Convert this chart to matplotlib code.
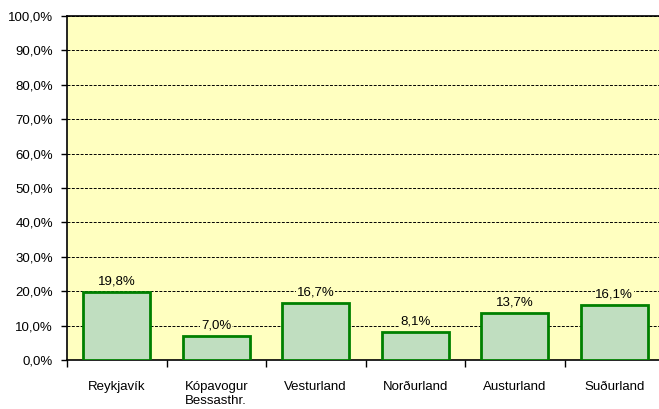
import matplotlib.pyplot as plt
import matplotlib.ticker as ticker
import numpy as np

plt.rcParams['font.family'] = ['Liberation Sans', 'DejaVu Sans']

categories = ['Reykjavík', 'Kópavogur\nBessasthr.', 'Vesturland', 'Norðurland', 'Austurland', 'Suðurland']
values = [19.8, 7.0, 16.7, 8.1, 13.7, 16.1]
y_ticks = np.arange(0, 101, 10)

bg_color = '#FFFFC0'
bar_fill = '#C0DEC0'
bar_edge = '#008000'

fig = plt.figure(figsize=(6.59, 4.09), dpi=100)
ax = fig.add_axes([67 / 659, 49 / 409, 597 / 659, 344 / 409])
ax.set_facecolor(bg_color)

x = np.arange(len(categories))
ax.bar(x, values, width=0.67, color=bar_fill, edgecolor=bar_edge, linewidth=2, zorder=3)

for xi, v in zip(x, values):
    ax.annotate(f'{v:.1f}'.replace('.', ',') + '%', (xi, v), xytext=(0, 3),
                textcoords='offset points', ha='center', va='bottom', fontsize=9.5,
                bbox=dict(boxstyle='square,pad=0.05', fc=bg_color, ec='none'), zorder=4)

ax.set_xlim(-0.5, len(categories) - 0.5)
ax.set_ylim(0, 100)
ax.set_yticks(y_ticks)
ax.yaxis.set_major_formatter(ticker.FuncFormatter(lambda v, p: f'{v:.1f}'.replace('.', ',') + '%'))
ax.yaxis.grid(True, color='black', linestyle=(0, (3, 1.5)), linewidth=0.7, zorder=1)
ax.set_axisbelow(True)

ax.set_xticks(np.arange(-0.5, len(categories), 1.0))
ax.set_xticklabels([])
ax.set_xticks(x, minor=True)
ax.set_xticklabels(categories, minor=True, fontsize=9.5, linespacing=1.2)
ax.tick_params(axis='x', which='minor', length=0, pad=15)
ax.tick_params(axis='x', which='major', length=5, width=1, direction='out')
ax.tick_params(axis='y', length=4, width=1, direction='out', labelsize=9.5, pad=6)

for side in ['left', 'bottom', 'top']:
    ax.spines[side].set_linewidth(1.2)
    ax.spines[side].set_color('black')
ax.spines['right'].set_visible(False)

fig.savefig('out.png', dpi=100, facecolor='white')
